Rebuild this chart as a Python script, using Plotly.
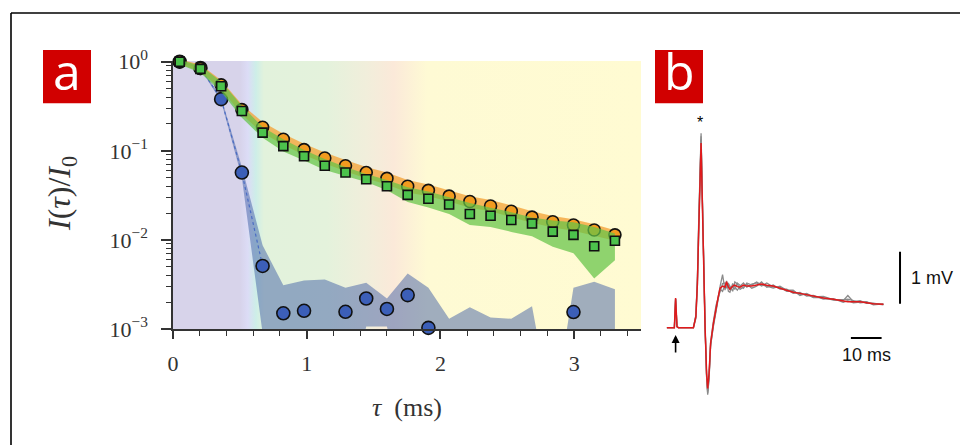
import plotly.graph_objects as go

W, H = 968, 445
OFF = 8  # the page body adds an 8 px margin around the figure


def px(x):
    return (x - OFF) / W


def py(y):
    return 1 - (y - OFF) / H


# ---------------- Panel a data ----------------
tau_ms = [0.05, 0.205, 0.36, 0.515, 0.67, 0.825, 0.98, 1.135, 1.29, 1.445, 1.60,
          1.755, 1.91, 2.065, 2.22, 2.375, 2.53, 2.685, 2.84, 2.995, 3.15, 3.305]

orange_pts = [1.0, 0.84, 0.55, 0.29, 0.184, 0.135, 0.103, 0.083, 0.068, 0.057, 0.049,
              0.040, 0.036, 0.031, 0.027, 0.024, 0.021, 0.018, 0.016, 0.0147, 0.0129, 0.0114]
orange_hi = [1.06, 0.93, 0.62, 0.33, 0.21, 0.155, 0.12, 0.096, 0.079, 0.066, 0.057,
             0.047, 0.042, 0.036, 0.031, 0.028, 0.0245, 0.021, 0.0186, 0.017, 0.015, 0.0128]
orange_lo = [0.94, 0.77, 0.49, 0.255, 0.158, 0.117, 0.09, 0.072, 0.059, 0.049, 0.042,
             0.034, 0.031, 0.027, 0.023, 0.021, 0.018, 0.0156, 0.0138, 0.0127, 0.0111, 0.0098]

green_pts = [1.0, 0.83, 0.53, 0.28, 0.16, 0.113, 0.087, 0.068, 0.057, 0.048, 0.040,
             0.032, 0.029, 0.025, 0.0195, 0.0187, 0.0167, 0.0153, 0.0124, 0.0114, 0.0085, 0.0098]
green_hi = [1.05, 0.9, 0.6, 0.32, 0.185, 0.135, 0.102, 0.081, 0.066, 0.055, 0.047,
            0.039, 0.035, 0.030, 0.026, 0.023, 0.0205, 0.0178, 0.0165, 0.0158, 0.014, 0.0118]
green_lo = [0.93, 0.75, 0.46, 0.235, 0.14, 0.098, 0.078, 0.061, 0.052, 0.0447, 0.036,
            0.0266, 0.0231, 0.0195, 0.0147, 0.014, 0.0123, 0.011, 0.0084, 0.0071, 0.0037, 0.0059]

blue_pts = [1.0, 0.85, 0.38, 0.057, 0.0051, 0.0015, 0.0016, None, 0.00156, 0.0022, 0.00168,
            0.0024, 0.00103, None, None, None, None, None, None, 0.00155, None, None]
blue_hi = [1.0, 0.87, 0.40, 0.066, 0.0087, 0.0031, 0.0035, 0.0036, 0.0029, 0.0033, 0.0022,
           0.0042, 0.0029, 0.0013, 0.00175, 0.00135, 0.0013, 0.0018, 0.0001, 0.0029, 0.0034, 0.0028]
blue_lo = [0.98, 0.83, 0.36, 0.050, 0.0009, 0.0001, 0.0001, 0.0001, 0.0001, 0.00107, 0.00107,
           0.0001, 0.0001, 0.0001, 0.0001, 0.0001, 0.0001, 0.0001, 0.0001, 0.0001, 0.0001, 0.0001]
blue_line_n = 5  # dotted line joins the first points of the fast decay

# background colour bands along tau
bg_tau = [0.0, 0.50, 0.56, 0.62, 0.68, 1.15, 1.45, 1.65, 1.90, 3.5]
bg_col = ['#d7d3ea', '#d7d3ea', '#dcdcf6', '#cdeee8', '#e2f2dc', '#e4f2dc',
          '#f1eedb', '#fbe9d9', '#fefad4', '#fffbd2']

x_ticks = [0, 1, 2, 3]
y_ticks = [1e-3, 1e-2, 1e-1, 1]
y_ticktext = ['10<sup>\u22123</sup>', '10<sup>\u22122</sup>', '10<sup>\u22121</sup>', '10<sup>0</sup>']
XR = [0, 3.5]
YR = [-3, 0.008]

# ---------------- Panel b data ----------------
t_ms = [0, 2.5, 2.9, 3.35, 3.8, 8.7, 9.5, 10.0, 10.4, 10.85, 11.2, 11.5, 11.9, 12.5, 13.0,
        13.35, 13.8, 14.3, 15.2, 16.1, 16.8, 17.4, 18.2, 19.0, 19.5, 20.1, 20.6, 21.5, 22.2,
        23.0, 23.9, 25.0, 26.1, 27.7, 29.3, 30.9, 32.6, 34.7, 36.9, 39.1, 41.2, 43.4, 45.6,
        47.8, 51.0, 54.3, 57.5, 59.0, 60.8, 63.0, 65.1, 67.3, 70.6]
v_mean = [0.0, 0.0, 0.57, 0.02, 0.0, 0.0, 0.21, 0.85, 1.81, 2.9, 3.55, 2.7, 1.49, 0.02, -0.88,
          -1.17, -0.88, -0.30, 0.08, 0.40, 0.60, 0.76, 0.80, 0.78, 0.885, 0.78, 0.74, 0.80, 0.82,
          0.79, 0.78, 0.82, 0.80, 0.80, 0.82, 0.84, 0.815, 0.80, 0.76, 0.72, 0.68, 0.66, 0.63,
          0.60, 0.57, 0.545, 0.51, 0.50, 0.50, 0.50, 0.48, 0.46, 0.45]
v_trial1 = [0.0, 0.0, 0.55, 0.02, 0.0, 0.0, 0.24, 0.95, 2.0, 3.1, 3.74, 2.85, 1.6, 0.05, -0.95,
            -1.29, -0.98, -0.36, 0.05, 0.38, 0.62, 0.80, 1.02, 0.72, 0.90, 0.70, 0.68, 0.85, 0.78,
            0.72, 0.80, 0.86, 0.78, 0.84, 0.86, 0.80, 0.86, 0.78, 0.78, 0.70, 0.70, 0.64, 0.64,
            0.58, 0.58, 0.53, 0.52, 0.62, 0.50, 0.52, 0.47, 0.47, 0.44]
v_trial2 = [0.0, 0.0, 0.55, 0.02, 0.0, 0.0, 0.18, 0.80, 1.75, 2.8, 3.62, 2.75, 1.45, 0.0, -0.92,
            -1.22, -0.90, -0.28, 0.12, 0.44, 0.58, 0.70, 0.85, 0.86, 0.80, 0.84, 0.80, 0.70, 0.88,
            0.84, 0.74, 0.78, 0.84, 0.76, 0.80, 0.88, 0.78, 0.82, 0.74, 0.74, 0.66, 0.68, 0.61,
            0.62, 0.55, 0.56, 0.49, 0.52, 0.48, 0.49, 0.50, 0.44, 0.46]
v_trial3 = [0.0, 0.0, 0.55, 0.02, 0.0, 0.0, 0.22, 0.90, 1.9, 3.0, 3.68, 2.8, 1.55, 0.03, -0.94,
            -1.26, -0.95, -0.33, 0.02, 0.36, 0.56, 0.74, 0.70, 0.82, 0.76, 0.86, 0.74, 0.78, 0.74,
            0.86, 0.82, 0.76, 0.86, 0.82, 0.88, 0.82, 0.80, 0.76, 0.80, 0.72, 0.72, 0.62, 0.66,
            0.59, 0.60, 0.54, 0.54, 0.55, 0.52, 0.48, 0.49, 0.46, 0.45]
stim_t = 2.9
spike_t, spike_v = 10.85, 3.94
bar_t = [60, 70]          # 10 ms scale bar
bar_t_level = -0.2
vbar_t = 76.0             # 1 mV scale bar
vbar_v = [0.46, 1.46]

SERIF = 'Liberation Serif'
SANS = 'Liberation Sans'
INK = '#333333'

fig = go.Figure()

# background gradient
fig.add_trace(go.Scatter(
    x=[XR[0], XR[1], XR[1], XR[0], XR[0]],
    y=[10 ** YR[0], 10 ** YR[0], 10 ** YR[1], 10 ** YR[1], 10 ** YR[0]],
    mode='lines', line=dict(width=0, color='rgba(0,0,0,0)'), fill='toself',
    fillgradient=dict(type='horizontal', start=XR[0], stop=XR[1],
                      colorscale=[[t / XR[1], c] for t, c in zip(bg_tau, bg_col)]),
    hoverinfo='skip', showlegend=False))


def band(lo, hi, color):
    return go.Scatter(x=tau_ms + tau_ms[::-1], y=hi + lo[::-1], mode='lines',
                      line=dict(width=0, color='rgba(0,0,0,0)'), fill='toself',
                      fillcolor=color, hoverinfo='skip', showlegend=False)


# blue band & points
fig.add_trace(band(blue_lo, blue_hi, 'rgba(65,95,165,0.50)'))
fig.add_trace(go.Scatter(x=tau_ms[:blue_line_n], y=blue_pts[:blue_line_n], mode='lines',
                         line=dict(color='#4a6cc4', width=1.2, dash='dot'), showlegend=False))
fig.add_trace(go.Scatter(x=tau_ms, y=blue_pts, mode='markers', cliponaxis=False,
                         marker=dict(symbol='circle', size=13, color='#3c5fb8',
                                     line=dict(color='#111', width=1.6)), showlegend=False))
# orange band & points
fig.add_trace(band(orange_lo, orange_hi, 'rgba(244,165,60,0.80)'))
fig.add_trace(go.Scatter(x=tau_ms, y=orange_pts, mode='markers', cliponaxis=False,
                         marker=dict(symbol='circle', size=12, color='#f29b1f',
                                     line=dict(color='#111', width=1.6)), showlegend=False))
# green band & points
fig.add_trace(band(green_lo, green_hi, 'rgba(100,195,70,0.72)'))
fig.add_trace(go.Scatter(x=tau_ms, y=green_pts, mode='markers', cliponaxis=False,
                         marker=dict(symbol='square', size=9, color='#4cc24c',
                                     line=dict(color='#111', width=1.6)), showlegend=False))

# panel b traces
for v in (v_trial1, v_trial2, v_trial3):
    fig.add_trace(go.Scatter(x=t_ms, y=v, mode='lines', xaxis='x2', yaxis='y2',
                             line=dict(color='#8a8a8a', width=1.3), showlegend=False))
fig.add_trace(go.Scatter(x=t_ms, y=v_mean, mode='lines', xaxis='x2', yaxis='y2',
                         line=dict(color='#e0191b', width=1.5), showlegend=False))

ax_common = dict(showgrid=False, zeroline=False, showline=True, linecolor=INK, linewidth=1.5,
                 ticks='outside', tickcolor=INK, tickwidth=1.5, automargin=False,
                 tickfont=dict(family=SERIF, size=22, color=INK))

minor_y = [m * 10 ** e for e in (-3, -2, -1) for m in range(2, 10)]

fig.update_layout(
    width=W, height=H, margin=dict(l=0, r=0, t=0, b=0, pad=0, autoexpand=False),
    paper_bgcolor='white', plot_bgcolor='rgba(0,0,0,0)',
    xaxis=dict(domain=[px(173), px(641)], range=XR, tickvals=x_ticks, ticklen=8,
               ticklabelstandoff=6,
               minor=dict(dtick=0.2, ticks='outside', ticklen=5, tickwidth=1.2, tickcolor=INK),
               anchor='y', **ax_common),
    yaxis=dict(domain=[py(329), py(61)], type='log', range=YR, tickvals=y_ticks,
               ticktext=y_ticktext, ticklen=10, ticklabelstandoff=9,
               minor=dict(tickvals=minor_y, ticks='outside', ticklen=5, tickwidth=1.2,
                          tickcolor=INK),
               anchor='x', **ax_common),
    xaxis2=dict(domain=[px(666.7), px(666.7 + 90 * 3.07)], range=[0, 90], visible=False,
                anchor='y2', automargin=False),
    yaxis2=dict(domain=[py(405.7), py(109.3)], range=[-1.5, 4.2], visible=False, anchor='x2',
                automargin=False),
)

shapes = [
    # outer frame (top and left edges)
    dict(type='line', xref='paper', yref='paper', x0=px(11), x1=1.0, y0=py(13), y1=py(13),
         line=dict(color='black', width=1.6)),
    dict(type='line', xref='paper', yref='paper', x0=px(11), x1=px(11), y0=py(13), y1=0,
         line=dict(color='black', width=1.6)),
    # panel labels
    dict(type='rect', xref='paper', yref='paper', x0=px(43), x1=px(91), y0=py(103.3),
         y1=py(50), fillcolor='#d10000', line=dict(width=0)),
    dict(type='rect', xref='paper', yref='paper', x0=px(655), x1=px(703), y0=py(103.3),
         y1=py(50), fillcolor='#d10000', line=dict(width=0)),
    # scale bars
    dict(type='line', xref='x2', yref='y2', x0=bar_t[0], x1=bar_t[1], y0=bar_t_level,
         y1=bar_t_level, line=dict(color='black', width=2)),
    dict(type='line', xref='x2', yref='y2', x0=vbar_t, x1=vbar_t, y0=vbar_v[0], y1=vbar_v[1],
         line=dict(color='black', width=2)),
]
fig.update_layout(shapes=shapes)

annotations = [
    dict(text='a', xref='paper', yref='paper', x=px(67), y=py(71), showarrow=False,
         font=dict(family='Open Sans', size=50, color='white'), xanchor='center',
         yanchor='middle'),
    dict(text='b', xref='paper', yref='paper', x=px(679), y=py(71), showarrow=False,
         font=dict(family='Open Sans', size=50, color='white'), xanchor='center',
         yanchor='middle'),
    dict(text='<i>I</i>(<i>\u03c4</i>)/<i>I</i><sub>0</sub>', xref='paper', yref='paper',
         x=px(61), y=py(194), textangle=-90, showarrow=False,
         font=dict(family=SERIF, size=32, color=INK), xanchor='center', yanchor='middle'),
    dict(text='<i>\u03c4</i>\u00a0\u00a0(ms)', xref='paper', yref='paper', x=px(407),
         y=py(407), showarrow=False, font=dict(family=SERIF, size=26, color=INK),
         xanchor='center', yanchor='middle'),
    dict(text='*', xref='x2', yref='y2', x=spike_t, y=spike_v, showarrow=False,
         font=dict(family=SANS, size=16, color='black'), xanchor='center', yanchor='middle'),
    dict(text='', xref='x2', yref='y2', x=stim_t, y=-0.14, ax=0, ay=19, showarrow=True,
         arrowhead=2, arrowsize=1, arrowwidth=1.6, arrowcolor='black'),
    dict(text='1 mV', xref='x2', yref='y2', x=vbar_t + 3.0, y=sum(vbar_v) / 2,
         showarrow=False, font=dict(family=SANS, size=18, color='#111'), xanchor='left',
         yanchor='middle'),
    dict(text='10 ms', xref='x2', yref='y2', x=sum(bar_t) / 2, y=-0.53, showarrow=False,
         font=dict(family=SANS, size=18, color='#111'), xanchor='center', yanchor='middle'),
]
fig.update_layout(annotations=annotations)

fig.write_html('out.html')
